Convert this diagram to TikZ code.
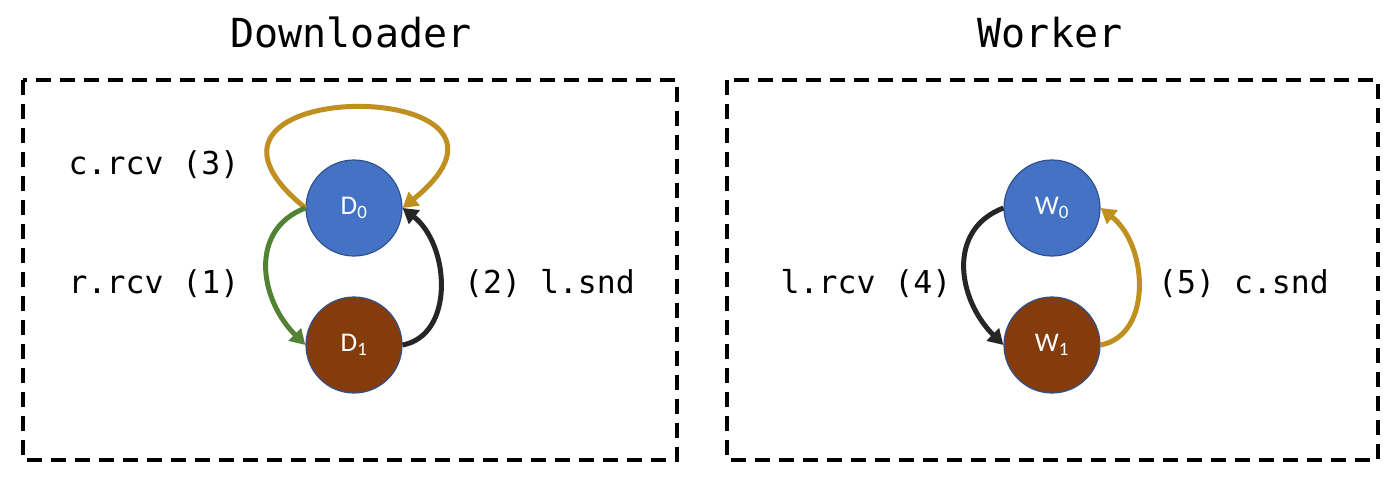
\documentclass[tikz,border=0pt]{standalone}
\usepackage{fontspec}
\setmonofont{DejaVu Sans Mono}
\newfontfamily\nodefont{Carlito}
\usetikzlibrary{arrows.meta}
\definecolor{nblue}{HTML}{4472C4}
\definecolor{nbrown}{HTML}{843C0C}
\definecolor{nborder}{HTML}{2F528F}
\definecolor{agold}{HTML}{BF9020}
\definecolor{agreen}{HTML}{548235}
\definecolor{ablack}{HTML}{262626}
\tikzset{
  statebox/.style={circle, minimum size=96pt, inner sep=0pt, draw=nborder, line width=1.2pt, text=white, font=\nodefont\fontsize{27}{30}\selectfont},
  bluestate/.style={statebox, fill=nblue},
  brownstate/.style={statebox, fill=nbrown},
  region/.style={draw=black, line width=3.8pt, dash pattern=on 15pt off 9pt},
  title/.style={font=\ttfamily\fontsize{40}{44}\selectfont, anchor=base},
  lbl/.style={font=\ttfamily\fontsize{31.5}{34}\selectfont, anchor=base},
  conn/.style={line width=5pt, -{Triangle[length=15pt,width=17pt]}},
}
\begin{document}
\begin{tikzpicture}[x=1pt,y=-1pt]
\useasboundingbox (0,0) rectangle (1400,484);
% regions
\draw[region] (23,80) rectangle (677,460);
\draw[region] (727,80) rectangle (1378,460);
\node[title] (tD) at (351,48) {Downloader};
\node[title] (tW) at (1050,48) {Worker};
% states
\node[bluestate] (D0) at (354,208) {D\textsubscript{0}};
\node[brownstate] (D1) at (354,345) {D\textsubscript{1}};
\node[bluestate] (W0) at (1052,208) {W\textsubscript{0}};
\node[brownstate] (W1) at (1052,345) {W\textsubscript{1}};
% connectors downloader
\draw[conn, agold] (D0.west) .. controls (140,74) and (568,74) .. (D0.east);
\draw[conn, agreen] (D0.west) .. controls (248,230) and (260,300) .. (D1.west);
\draw[conn, ablack] (D1.east) .. controls (455,335) and (450,245) .. (D0.east);
% connectors worker
\draw[conn, ablack] (W0.west) .. controls (946,230) and (958,300) .. (W1.west);
\draw[conn, agold] (W1.east) .. controls (1153,335) and (1148,245) .. (W0.east);
% labels
\node[lbl] (l3) at (154,175) {c.rcv (3)};
\node[lbl] (l1) at (154,293) {r.rcv (1)};
\node[lbl] (l2) at (549.5,293) {(2) l.snd};
\node[lbl] (l4) at (866,293) {l.rcv (4)};
\node[lbl] (l5) at (1243.5,293) {(5) c.snd};
\end{tikzpicture}
\end{document}
